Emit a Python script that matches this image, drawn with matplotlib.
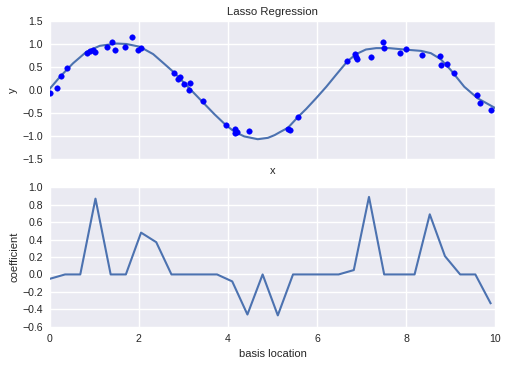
import matplotlib
matplotlib.use("Agg")
import matplotlib.pyplot as plt
import numpy as np

plt.rcParams['font.family'] = ['Liberation Sans', 'DejaVu Sans']

# Scatter data (top panel)
x_data = [0.0, 0.17, 0.25, 0.39, 0.83, 0.90, 0.96, 1.02, 1.29, 1.40, 1.47, 1.69, 1.85, 1.99, 2.04,
          2.79, 2.88, 2.93, 3.01, 3.15, 3.12, 3.44, 3.95, 4.15, 4.17, 4.20, 4.47,
          5.35, 5.40, 5.57, 6.68, 6.86, 6.88, 6.91, 7.21, 7.48, 7.50,
          7.87, 8.01, 8.35, 8.77, 8.78, 8.93, 9.09, 9.59, 9.67, 9.90]
y_data = [-0.07, 0.04, 0.30, 0.47, 0.80, 0.85, 0.88, 0.83, 0.94, 1.04, 0.88, 0.93, 1.15, 0.88, 0.91,
          0.36, 0.23, 0.28, 0.12, 0.15, -0.01, -0.25, -0.77, -0.85, -0.94, -0.92, -0.90,
          -0.84, -0.88, -0.59, 0.63, 0.78, 0.72, 0.67, 0.71, 1.04, 0.91,
          0.80, 0.89, 0.75, 0.73, 0.54, 0.57, 0.36, -0.11, -0.29, -0.44]

# Fitted curve
x_fit = [0.0, 0.23, 0.52, 0.82, 1.12, 1.50, 1.72, 2.02, 2.32, 2.58, 2.79, 3.10, 3.44, 3.70,
         3.95, 4.15, 4.37, 4.67, 4.90, 5.05, 5.16, 5.35, 5.57, 5.76, 5.98, 6.21, 6.43, 6.68,
         6.88, 7.10, 7.33, 7.62, 7.96, 8.34, 8.56, 8.78, 9.01, 9.31, 9.61, 10.0]
y_fit = [0.03, 0.29, 0.58, 0.83, 0.96, 1.01, 1.00, 0.94, 0.78, 0.56, 0.38, 0.07, -0.27, -0.53,
         -0.76, -0.91, -1.01, -1.07, -1.04, -0.98, -0.92, -0.82, -0.59, -0.41, -0.18, 0.07, 0.33, 0.62,
         0.78, 0.88, 0.91, 0.91, 0.88, 0.85, 0.80, 0.67, 0.43, 0.07, -0.18, -0.39]

# Coefficients at basis locations (bottom panel)
basis_loc = list(np.linspace(0, 9.9, 30))
coef = [-0.05, 0.0, 0.0, 0.87, 0.0, 0.0, 0.48, 0.37, 0.0, 0.0,
        0.0, 0.0, -0.08, -0.46, 0.0, -0.47, 0.0, 0.0, 0.0, 0.0,
        0.05, 0.89, 0.0, 0.0, 0.0, 0.69, 0.21, 0.0, 0.0, -0.33]

dpi = 100
fig = plt.figure(figsize=(5.08, 3.65), dpi=dpi)
bg = "#EAEAF2"
text_c = "#262626"
fs = 7.6

ax1 = fig.add_axes([0.0982, 0.5644, 0.9744 - 0.0982, 0.9425 - 0.5644])
ax2 = fig.add_axes([0.0982, 0.1049, 0.9744 - 0.0982, 0.4868 - 0.1049])

for ax in (ax1, ax2):
    ax.set_facecolor(bg)
    for s in ax.spines.values():
        s.set_visible(False)
    ax.grid(True, color="white", linewidth=1.0)
    ax.set_axisbelow(True)
    ax.tick_params(length=0, labelsize=fs, labelcolor=text_c, pad=5)
    ax.set_xlim(0, 10)
    ax.set_xticks([0, 2, 4, 6, 8, 10])

ax1.plot(x_fit, y_fit, color="#4C72B0", linewidth=1.5, zorder=2)
ax1.scatter(x_data, y_data, s=16, color="blue", edgecolors="blue", linewidths=0.3, zorder=3)
ax1.set_ylim(-1.5, 1.5)
ax1.set_yticks([-1.5, -1.0, -0.5, 0.0, 0.5, 1.0, 1.5])
ax1.set_yticklabels(["\u22121.5", "\u22121.0", "\u22120.5", "0.0", "0.5", "1.0", "1.5"])
ax1.set_xticklabels([])
ax1.set_xlabel("x", fontsize=fs + 0.4, color=text_c, labelpad=0)
ax1.set_ylabel("y", fontsize=fs + 0.4, color=text_c, labelpad=3)
ax1.set_title("Lasso Regression", fontsize=fs + 0.6, color=text_c, pad=4)

ax2.plot(basis_loc, coef, color="#4C72B0", linewidth=1.5)
ax2.set_ylim(-0.6, 1.0)
yt = [-0.6, -0.4, -0.2, 0.0, 0.2, 0.4, 0.6, 0.8, 1.0]
ax2.set_yticks(yt)
ax2.set_yticklabels([("\u2212" if v < 0 else "") + f"{abs(v):.1f}" for v in yt])
ax2.set_xticklabels(["0", "2", "4", "6", "8", "10"])
ax2.set_xlabel("basis location", fontsize=fs + 0.4, color=text_c, labelpad=4)
ax2.set_ylabel("coefficient", fontsize=fs + 0.4, color=text_c, labelpad=2)

fig.savefig("out.png", dpi=dpi, facecolor="white")
